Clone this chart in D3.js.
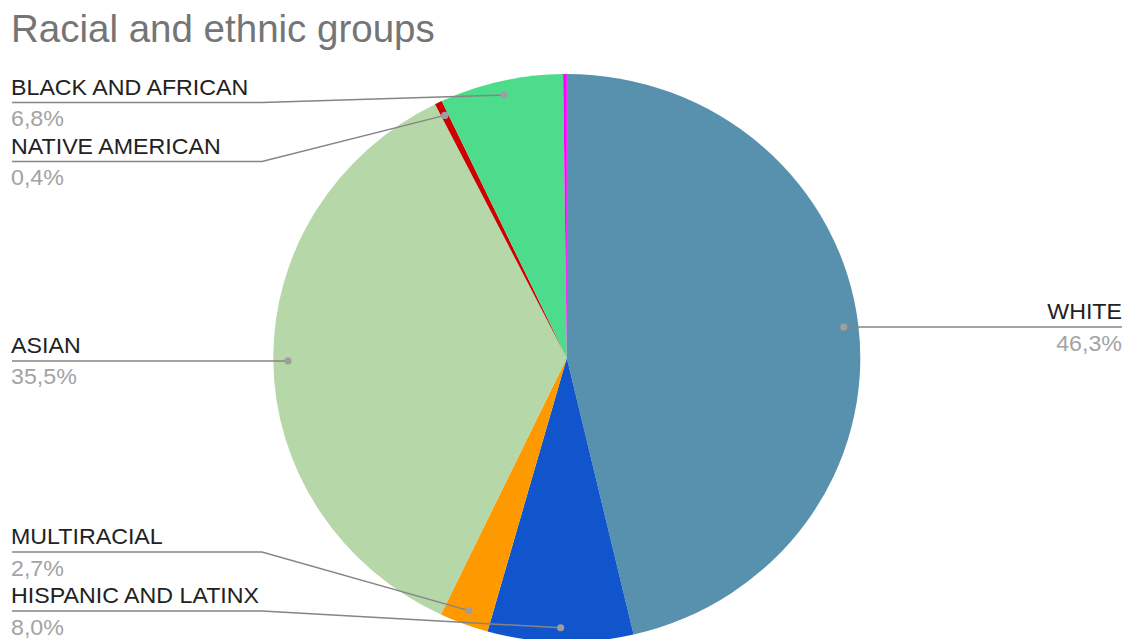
<!DOCTYPE html>
<html>
<head>
<meta charset="utf-8">
<script src="https://cdn.jsdelivr.net/npm/d3@7"></script>
<style>
  html, body { margin: 0; padding: 0; background: #fff; }
  svg { display: block; font-family: "Liberation Sans", Arial, sans-serif; }
</style>
</head>
<body>
<svg id="chart" width="1128" height="639"></svg>
<script>
// Share of students by racial and ethnic group (percent)
const categories = ["WHITE", "HISPANIC AND LATINX", "MULTIRACIAL", "ASIAN", "NATIVE AMERICAN", "BLACK AND AFRICAN", "OTHER"];
const shares     = [46.3, 8.0, 2.7, 35.5, 0.4, 6.8, 0.2];
const labelled   = [true, true, true, true, true, true, false];
const colors     = ["#5891ad", "#1155cc", "#ff9900", "#b6d7a8", "#cc0000", "#4cdc8b", "#ff00ff"];
const title      = "Racial and ethnic groups";

const width = 1128, height = 639;
const cx = 566.8, cy = 358, rx = 293.5, ry = 284;
const textStretch = 1.055;   // labels are drawn slightly wide
const svg = d3.select("#chart");

const fmt = v => d3.format(".1f")(v).replace(".", ",") + "%";

svg.append("text")
  .attr("x", 11).attr("y", 42)
  .attr("font-size", 38.5)
  .attr("fill", "#757575")
  .text(title);

const data = categories.map((c, i) => ({ name: c, value: shares[i], color: colors[i], labelled: labelled[i] }));

const pie = d3.pie().sort(null).value(d => d.value);
const arcs = pie(data);
const arc = d3.arc().innerRadius(0).outerRadius(rx);

// Slices (circle squeezed vertically into the chart area)
svg.append("g")
  .attr("transform", `translate(${cx},${cy}) scale(1,${ry / rx})`)
  .selectAll("path")
  .data(arcs)
  .join("path")
  .attr("d", arc)
  .attr("fill", d => d.data.color);

// Leader anchor points at 95% of the radius on each slice's mid-angle
const items = arcs.filter(a => a.data.labelled).map(a => {
  const m = (a.startAngle + a.endAngle) / 2;
  const px = cx + 0.95 * rx * Math.sin(m);
  const py = cy - 0.95 * ry * Math.cos(m);
  return { a, px, py, side: px < cx ? "left" : "right" };
});

// Spread labels vertically so they never overlap
const gap = 59, topY = 102.5, bottomY = 611;
function spread(list) {
  list.sort((p, q) => p.py - q.py);
  let prev = -Infinity;
  list.forEach(d => { d.ly = Math.max(d.py, prev + gap, topY); prev = d.ly; });
  let next = Infinity;
  for (let i = list.length - 1; i >= 0; i--) {
    list[i].ly = Math.min(list[i].ly, next - gap, bottomY);
    next = list[i].ly;
  }
}
const left = items.filter(d => d.side === "left");
const right = items.filter(d => d.side === "right");
spread(left);
spread(right);

const labels = svg.append("g");
const textLeft = 12, textRight = 1122, run = 250;

function label(x, y, anchor, fill, str) {
  labels.append("text")
    .attr("transform", `translate(${x},${y}) scale(${textStretch},1)`)
    .attr("text-anchor", anchor)
    .attr("font-size", 22)
    .attr("fill", fill)
    .text(str);
}

items.forEach(d => {
  const isLeft = d.side === "left";
  const x0 = isLeft ? textLeft : textRight;
  const x1 = isLeft ? textLeft + run : textRight - run;
  labels.append("path")
    .attr("d", `M${x0},${d.ly}L${x1},${d.ly}L${d.px},${d.py}`)
    .attr("fill", "none")
    .attr("stroke", "#858585")
    .attr("stroke-width", 1.5);
  labels.append("circle")
    .attr("cx", d.px).attr("cy", d.py).attr("r", 3.6)
    .attr("fill", "#9e9e9e");
  const tx = isLeft ? x0 - 1 : x0;
  const anchor = isLeft ? "start" : "end";
  label(tx, d.ly - 8, anchor, "#222", d.a.data.name);
  label(tx, d.ly + 23.5, anchor, "#a3a3a3", fmt(d.a.data.value));
});
</script>
</body>
</html>
